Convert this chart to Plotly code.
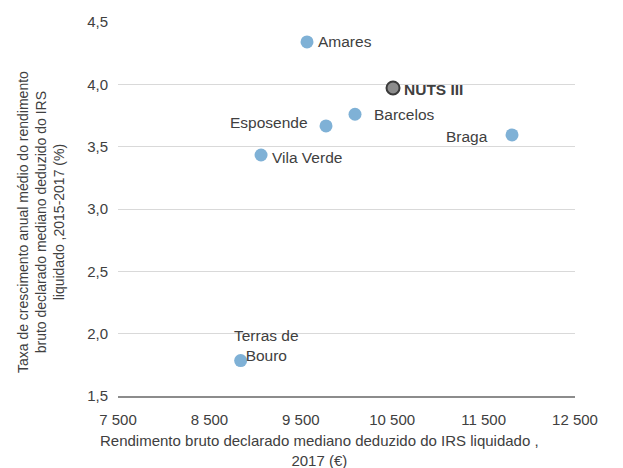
import plotly.graph_objects as go

names = ["Amares", "Barcelos", "Braga", "Esposende", "Terras de<br>Bouro", "Vila Verde"]
x_vals = [9568, 10093, 11811, 9776, 8842, 9065]
y_vals = [4.34, 3.76, 3.594, 3.666, 1.784, 3.433]

nuts_name = "NUTS III"
nuts_x = [10509]
nuts_y = [3.971]

x_ticks = [7500, 8500, 9500, 10500, 11500, 12500]
y_ticks = [1.5, 2.0, 2.5, 3.0, 3.5, 4.0, 4.5]

x_title = "Rendimento bruto declarado mediano deduzido do IRS liquidado ,<br>2017 (€)"
y_title = "Taxa de crescimento anual médio do rendimento<br>bruto declarado mediano deduzido do IRS<br>liquidado ,2015-2017 (%)"

font_family = "Liberation Sans, Arial, sans-serif"
text_color = "#404040"

fig = go.Figure()
fig.add_trace(go.Scatter(
    x=x_vals, y=y_vals, mode="markers",
    marker=dict(size=13, color="#7FB1D6", line=dict(width=0)),
    hoverinfo="skip", showlegend=False))
fig.add_trace(go.Scatter(
    x=nuts_x, y=nuts_y, mode="markers",
    marker=dict(size=13, color="#8C8C8C", line=dict(width=2, color="#3A3A3A")),
    hoverinfo="skip", showlegend=False))

# label placement: (xshift px, yshift px (positive = up), anchor)
offsets = {
    "Amares": (9, 0, "left"),
    "Barcelos": (17, 0, "left"),
    "Braga": (-22, -2, "right"),
    "Esposende": (-16, 3, "right"),
    "Terras de<br>Bouro": (26, 15, "center"),
    "Vila Verde": (9, -2, "left"),
}
for n, xv, yv in zip(names, x_vals, y_vals):
    dx, dy, anc = offsets[n]
    fig.add_annotation(x=xv, y=yv, text=n, showarrow=False,
                       xanchor=anc, yanchor="middle", xshift=dx, yshift=dy,
                       font=dict(size=15.5, color=text_color, family=font_family))
fig.add_annotation(x=nuts_x[0], y=nuts_y[0], text="<b>" + nuts_name + "</b>", showarrow=False,
                   xanchor="left", yanchor="middle", xshift=9, yshift=-2,
                   font=dict(size=15.5, color=text_color, family=font_family))

# axis titles
fig.add_annotation(xref="paper", yref="paper", x=0.442, y=-0.145, text=x_title,
                   showarrow=False, xanchor="center", yanchor="middle",
                   font=dict(size=15, color=text_color, family=font_family))
fig.add_annotation(xref="paper", yref="paper", x=-0.1685, y=0.465, text=y_title,
                   textangle=-90, showarrow=False, xanchor="center", yanchor="middle",
                   font=dict(size=14, color=text_color, family=font_family))

fig.update_layout(
    width=615, height=460,
    margin=dict(l=110, r=48, t=14, b=72),
    paper_bgcolor="white", plot_bgcolor="white",
    separators=", ",
    font=dict(family=font_family, size=15, color=text_color),
    xaxis=dict(range=[7500, 12500], tickvals=x_ticks, tickformat=",d",
               showgrid=False, showline=True, linecolor="#8C8C8C", linewidth=1.5,
               zeroline=False, ticks="", ticklabelstandoff=9, automargin=False),
    yaxis=dict(range=[1.5, 4.5], tickvals=y_ticks, tickformat=".1f",
               showgrid=True, gridcolor="#D9D9D9", gridwidth=1,
               zeroline=False, showline=False, ticks="", ticklabelstandoff=9,
               automargin=False),
)

fig.write_html("out.html")
